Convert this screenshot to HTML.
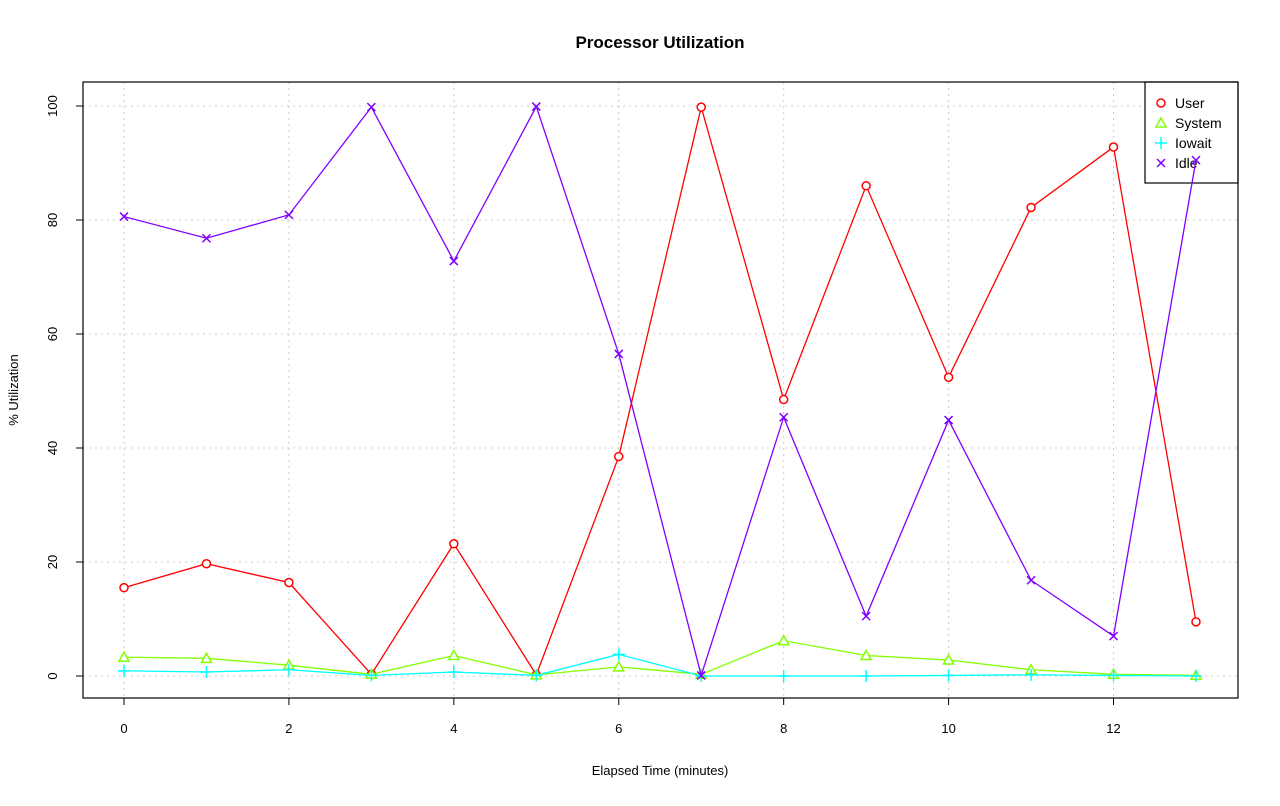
<!DOCTYPE html>
<html><head><meta charset="utf-8"><style>body{margin:0;background:#fff}svg text{font-family:"Liberation Sans",sans-serif}</style></head>
<body>
<svg id="chart" width="1280" height="801" xmlns="http://www.w3.org/2000/svg">
<text x="660" y="48" text-anchor="middle" font-size="17" font-weight="bold">Processor Utilization</text>
<g id="grid"></g>
<g id="axes"></g>
<g>
<rect x="1145" y="82" width="93" height="101" fill="#fff" stroke="#000" stroke-width="1.2"/>
<circle cx="1161" cy="103" r="4" fill="none" stroke="#ff0000" stroke-width="1.5"/>
<text x="1175" y="108" font-size="14">User</text>
<polygon points="1161,118 1166,127 1156,127" fill="none" stroke="#80ff00" stroke-width="1.5"/>
<text x="1175" y="128" font-size="14">System</text>
<path d="M1155,143 h12 M1161,137 v12" stroke="#00ffff" stroke-width="1.5"/>
<text x="1175" y="148" font-size="14">Iowait</text>
<path d="M1157,159 l8,8 M1165,159 l-8,8" stroke="#8000ff" stroke-width="1.5"/>
<text x="1175" y="168" font-size="14">Idle</text>
</g>
<g id="series"></g>
<rect x="83" y="82" width="1155" height="616" fill="none" stroke="#000" stroke-width="1.2"/>
<text x="660" y="775" text-anchor="middle" font-size="13">Elapsed Time (minutes)</text>
<text transform="translate(18,390) rotate(-90)" text-anchor="middle" font-size="13">% Utilization</text>
</svg>
<script>
const minutes=[0,1,2,3,4,5,6,7,8,9,10,11,12,13];
const user=[15.5,19.7,16.4,0.3,23.2,0.2,38.5,99.8,48.5,86,52.4,82.2,92.8,9.5];
const system=[3.3,3.1,1.9,0.3,3.6,0.2,1.6,0.3,6.2,3.6,2.8,1.1,0.3,0.1];
const iowait=[0.9,0.7,1.1,0.1,0.7,0.1,3.8,0,0,0,0.1,0.2,0.1,0];
const idle=[80.6,76.8,80.9,99.8,72.8,99.9,56.5,0.1,45.4,10.5,44.9,16.8,7.0,90.5];
const xTicks=[0,2,4,6,8,10,12];
const yTicks=[0,20,40,60,80,100];
const NS="http://www.w3.org/2000/svg";
const X=v=>124+v*82.46;
const Y=v=>676-v*5.7;
function mk(tag,attrs,parent){const e=document.createElementNS(NS,tag);for(const k in attrs)e.setAttribute(k,attrs[k]);parent.appendChild(e);return e;}
const grid=document.getElementById('grid'),axes=document.getElementById('axes'),ser=document.getElementById('series');
xTicks.forEach(t=>{
 const g=mk('line',{x1:X(t),x2:X(t),y1:82,y2:698,stroke:'#ccc','stroke-dasharray':'2,4'},grid);
 
 
 const l=mk('line',{x1:X(t),x2:X(t),y1:698,y2:705,stroke:'#000'},axes);
 
 
 const tx=mk('text',{x:X(t),y:733,'text-anchor':'middle','font-size':13},axes);tx.textContent=t;
 
 
});
yTicks.forEach(t=>{
 const g=mk('line',{x1:83,x2:1238,y1:Y(t),y2:Y(t),stroke:'#ccc','stroke-dasharray':'2,4'},grid);
 
 
 const l=mk('line',{x1:76,x2:83,y1:Y(t),y2:Y(t),stroke:'#000'},axes);
 
 
 const tx=mk('text',{x:0,y:0,'text-anchor':'middle','font-size':13,transform:`translate(57,${Y(t)}) rotate(-90)`},axes);tx.textContent=t;
 
 
});
function series(vals,color,shape,name){
 const g=mk('g',{},ser);
 
 
 mk('polyline',{points:vals.map((v,i)=>X(minutes[i])+','+Y(v)).join(' '),fill:'none',stroke:color,'stroke-width':1.3},g);
 vals.forEach((v,i)=>{
  const x=X(minutes[i]),y=Y(v);let m;
  if(shape==='o')m=mk('circle',{cx:x,cy:y,r:4,fill:'#fff',stroke:color,'stroke-width':1.5},g);
  else if(shape==='t')m=mk('polygon',{points:`${x},${y-5} ${x+5},${y+4} ${x-5},${y+4}`,fill:'#fff',stroke:color,'stroke-width':1.5},g);
  else if(shape==='+')m=mk('path',{d:`M${x-6},${y}h12M${x},${y-6}v12`,stroke:color,'stroke-width':1.5},g);
  else m=mk('path',{d:`M${x-4},${y-4}l8,8M${x+4},${y-4}l-8,8`,stroke:color,'stroke-width':1.5},g);
  
  
 });
}
series(user,'#ff0000','o','user');
series(system,'#80ff00','t','system');
series(iowait,'#00ffff','+','iowait');
series(idle,'#8000ff','x','idle');
</script>
</body></html>
